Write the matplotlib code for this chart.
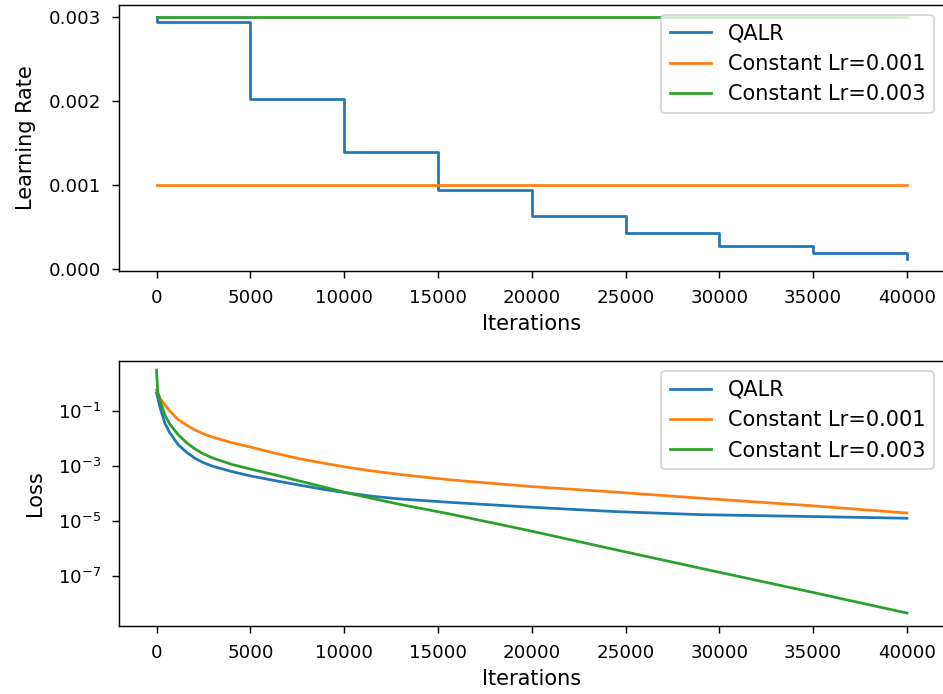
import matplotlib
matplotlib.use("Agg")
import matplotlib.pyplot as plt
from matplotlib.ticker import FixedLocator, NullLocator, LogFormatterSciNotation

# ---- Data: learning-rate schedules ----
lr_steps_x = [0, 1, 5000, 10000, 15000, 20000, 25000, 30000, 35000, 40000]
qalr_lr = [0.003, 0.00294, 0.00203, 0.00139, 0.00094, 0.00063, 0.00043, 0.000278, 0.00019, 0.000127]
const_x = [0, 40000]
const_lr_001 = [0.001, 0.001]
const_lr_003 = [0.003, 0.003]

# ---- Data: loss curves ----
loss_x = [0, 60, 180, 450, 700, 1150, 1600, 2050, 2500, 3000, 4000, 5000, 6300, 7650, 9000,
          10300, 11500, 13000, 15600, 20000, 24500, 29000, 35000, 40000]
loss_qalr = [0.45, 0.32, 0.14, 0.0355, 0.0166, 0.00603, 0.00316, 0.00191, 0.00132, 0.000977,
             0.000631, 0.000437, 0.000295, 0.0002, 0.000138, 0.000102, 7.94e-5, 6.31e-5, 4.79e-5,
             3.16e-5, 2.19e-5, 1.70e-5, 1.45e-5, 1.26e-5]
loss_lr_001 = [0.575, 0.468, 0.295, 0.166, 0.1, 0.049, 0.0309, 0.0204, 0.0148, 0.0112, 0.00708,
               0.0049, 0.00295, 0.00182, 0.00123, 0.00087, 0.00066, 0.00049, 0.000316, 0.000178,
               0.000112, 6.76e-5, 3.55e-5, 1.95e-5]
loss_lr_003 = [3.09, 0.501, 0.251, 0.0708, 0.0339, 0.0138, 0.00708, 0.00417, 0.00275, 0.00195,
               0.00115, 0.000776, 0.000479, 0.000282, 0.000166, 0.0001, 6.61e-5, 3.98e-5, 1.82e-5,
               4.27e-6, 8.91e-7, 1.91e-7, 2.51e-8, 4.47e-9]

labels = ["QALR", "Constant Lr=0.001", "Constant Lr=0.003"]
xticks = [0, 5000, 10000, 15000, 20000, 25000, 30000, 35000, 40000]
loss_yticks = [1e-1, 1e-3, 1e-5, 1e-7]

DPI = 131
plt.rcParams["xtick.major.pad"] = 6
plt.rcParams["ytick.major.pad"] = 6
plt.rcParams["xtick.major.size"] = 4
plt.rcParams["ytick.major.size"] = 4
LABEL_FS = 11.5

fig = plt.figure(figsize=(943 / DPI, 694 / DPI), dpi=DPI)
W, H = 943, 694
left = 119 / W
width = (944.5 - 119) / W
ax1 = fig.add_axes([left, (H - 270.7) / H, width, 266 / H])
ax2 = fig.add_axes([left, (H - 626) / H, width, 265 / H])

# Top: learning rate
ax1.plot(lr_steps_x, qalr_lr, drawstyle="steps-post", color="C0", lw=1.5, label=labels[0])
ax1.plot(const_x, const_lr_001, color="C1", lw=1.5, label=labels[1])
ax1.plot(const_x, const_lr_003, color="C2", lw=1.5, label=labels[2])
ax1.set_xticks(xticks)
ax1.set_yticks([0.000, 0.001, 0.002, 0.003])
ax1.set_yticklabels(["0.000", "0.001", "0.002", "0.003"])
ax1.set_xlabel("Iterations", fontsize=LABEL_FS, labelpad=4)
ax1.set_ylabel("Learning Rate", fontsize=LABEL_FS, labelpad=7)
ax1.set_xlim(-2000, 42000)
ax1.set_ylim(-0.0000167, 0.003146)
ax1.legend(loc="upper right", fontsize=LABEL_FS)

# Bottom: loss
ax2.plot(loss_x, loss_qalr, color="C0", lw=1.5, label=labels[0])
ax2.plot(loss_x, loss_lr_001, color="C1", lw=1.5, label=labels[1])
ax2.plot(loss_x, loss_lr_003, color="C2", lw=1.5, label=labels[2])
ax2.set_yscale("log")
ax2.yaxis.set_major_locator(FixedLocator(loss_yticks))
ax2.yaxis.set_major_formatter(LogFormatterSciNotation())
ax2.yaxis.set_minor_locator(NullLocator())
ax2.set_ylim(10 ** -8.82, 10 ** 0.82)
ax2.set_xlim(-2000, 42000)
ax2.set_xticks(xticks)
ax2.set_xlabel("Iterations", fontsize=LABEL_FS, labelpad=4)
ax2.set_ylabel("Loss", fontsize=LABEL_FS, labelpad=7)
ax2.legend(loc="upper right", fontsize=LABEL_FS)

fig.savefig("out.png", dpi=DPI)
